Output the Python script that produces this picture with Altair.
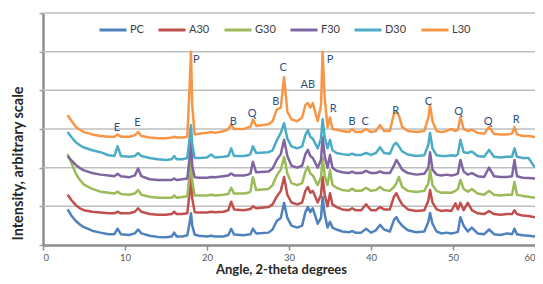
import altair as alt
import pandas as pd

series_names = ["PC", "A30", "G30", "F30", "D30", "L30"]
series_colors = ["#4F81BD", "#C0504D", "#9BBB59", "#8064A2", "#4BACC6", "#F79646"]

angles = [3, 3.5, 4, 4.5, 5, 6, 7, 8, 8.7, 9.1, 9.5, 10.5, 11.2, 11.6, 12.0, 13, 14, 15,
          15.7, 16.0, 16.3, 17, 17.6, 17.9, 18.05, 18.2, 18.5, 19, 20, 20.5, 21, 22, 22.6,
          22.95, 23.3, 24.5, 25.0, 25.3, 25.6, 26.0, 27.5, 28.0, 28.5, 29.0, 29.4, 29.8, 30.3,
          31, 31.6, 32.0, 32.3, 32.6, 32.9, 33.5, 33.9, 34.1, 34.35, 34.7, 35.0, 35.3, 35.8,
          36.5, 37.3, 37.7, 38.1, 38.8, 39.4, 40.0, 40.6, 41.1, 41.6, 42.3, 42.8, 43.1, 43.4,
          43.8, 44.5, 45.5, 46.5, 47.0, 47.2, 47.5, 48.0, 48.6, 49.2, 49.8, 50.3, 50.6, 50.9,
          51.3, 51.8, 52.3, 53.0, 53.8, 54.4, 55.0, 55.8, 56.6, 57.2, 57.5, 57.8, 58.5, 59.2, 60.0]

pc = [0.92, 0.75, 0.62, 0.53, 0.46, 0.37, 0.32, 0.28, 0.28, 0.42, 0.28, 0.26, 0.30, 0.40, 0.30, 0.24, 0.21, 0.20,
      0.22, 0.32, 0.22, 0.22, 0.25, 0.60, 0.82, 0.50, 0.27, 0.24, 0.22, 0.24, 0.22, 0.22, 0.26,
      0.42, 0.27, 0.25, 0.27, 0.28, 0.42, 0.30, 0.32, 0.40, 0.62, 0.70, 1.09, 0.70, 0.50,
      0.45, 0.50, 0.85, 0.98, 0.85, 0.95, 0.55, 0.70, 1.24, 0.80, 0.45, 0.60, 0.45, 0.40,
      0.35, 0.33, 0.36, 0.32, 0.32, 0.42, 0.32, 0.38, 0.52, 0.40, 0.35, 0.65, 0.72, 0.60,
      0.50, 0.38, 0.33, 0.35, 0.60, 0.83, 0.55, 0.35, 0.30, 0.32, 0.30, 0.32, 0.34, 0.72,
      0.50, 0.35, 0.45, 0.30, 0.28, 0.40, 0.28, 0.26, 0.30, 0.28, 0.42, 0.28, 0.25, 0.24, 0.22]

a30 = [1.30, 1.15, 1.03, 0.95, 0.90, 0.86, 0.84, 0.82, 0.82, 0.86, 0.82, 0.82, 0.86, 0.95, 0.86, 0.80, 0.78, 0.78,
       0.80, 0.86, 0.80, 0.80, 0.82, 1.40, 1.85, 1.20, 0.85, 0.84, 0.84, 0.86, 0.85, 0.86, 0.90,
       1.12, 0.92, 0.90, 0.92, 0.93, 1.00, 0.95, 0.98, 1.05, 1.25, 1.40, 1.76, 1.30, 1.10,
       1.05, 1.10, 1.40, 1.50, 1.35, 1.40, 1.10, 1.30, 1.76, 1.30, 1.00, 1.34, 1.05, 0.98,
       0.92, 0.90, 0.95, 0.90, 0.90, 1.05, 0.90, 0.90, 0.98, 0.92, 0.92, 1.25, 1.34, 1.20,
       1.05, 0.92, 0.88, 0.90, 1.15, 1.42, 1.10, 0.92, 0.88, 0.90, 0.88, 1.08, 0.92, 1.09,
       0.90, 1.09, 0.90, 0.82, 0.80, 0.88, 0.80, 0.78, 0.80, 0.80, 0.90, 0.80, 0.76, 0.75, 0.72]

g30 = [2.35, 2.10, 1.85, 1.68, 1.56, 1.45, 1.38, 1.35, 1.33, 1.38, 1.32, 1.30, 1.33, 1.42, 1.30, 1.25, 1.22, 1.22,
       1.22, 1.28, 1.22, 1.24, 1.26, 1.90, 2.40, 1.65, 1.28, 1.28, 1.28, 1.30, 1.28, 1.30, 1.32,
       1.48, 1.33, 1.33, 1.35, 1.38, 1.75, 1.42, 1.45, 1.55, 1.80, 1.95, 2.28, 1.85, 1.60,
       1.55, 1.60, 1.90, 2.02, 1.85, 1.80, 1.55, 1.75, 2.25, 1.80, 1.55, 1.94, 1.55, 1.48,
       1.42, 1.40, 1.46, 1.40, 1.40, 1.48, 1.40, 1.42, 1.50, 1.42, 1.40, 1.50, 1.60, 1.76,
       1.50, 1.40, 1.37, 1.40, 1.60, 1.94, 1.55, 1.40, 1.35, 1.36, 1.35, 1.40, 1.45, 1.68,
       1.45, 1.38, 1.45, 1.33, 1.30, 1.40, 1.30, 1.28, 1.30, 1.30, 1.63, 1.30, 1.27, 1.25, 1.22]

f30 = [2.30, 2.18, 2.07, 1.99, 1.93, 1.86, 1.82, 1.80, 1.78, 1.84, 1.78, 1.75, 1.80, 1.98, 1.78, 1.70, 1.68, 1.68,
       1.68, 1.72, 1.68, 1.70, 1.72, 2.30, 2.75, 2.05, 1.75, 1.74, 1.74, 1.76, 1.75, 1.78, 1.80,
       1.85, 1.80, 1.80, 1.82, 1.85, 2.15, 1.88, 1.90, 1.98, 2.20, 2.35, 2.72, 2.30, 2.05,
       2.00, 2.05, 2.35, 2.46, 2.30, 2.25, 2.00, 2.20, 2.80, 2.30, 2.00, 2.33, 2.00, 1.92,
       1.88, 1.86, 1.90, 1.86, 1.86, 1.92, 1.86, 1.86, 1.90, 1.86, 1.86, 2.05, 2.20, 2.10,
       1.95, 1.86, 1.82, 1.84, 2.00, 2.40, 1.95, 1.82, 1.80, 1.82, 1.80, 1.82, 1.85, 2.20,
       1.90, 1.82, 1.86, 1.78, 1.76, 2.00, 1.78, 1.76, 1.76, 1.78, 2.20, 1.78, 1.74, 1.73, 1.72]

d30 = [2.92, 2.78, 2.66, 2.58, 2.52, 2.45, 2.40, 2.32, 2.30, 2.55, 2.30, 2.28, 2.30, 2.38, 2.30, 2.25, 2.22, 2.20,
       2.22, 2.30, 2.22, 2.22, 2.25, 2.80, 3.10, 2.60, 2.25, 2.25, 2.26, 2.34, 2.26, 2.28, 2.30,
       2.50, 2.30, 2.30, 2.32, 2.35, 2.55, 2.38, 2.40, 2.45, 2.70, 2.90, 3.15, 2.75, 2.55,
       2.50, 2.55, 2.85, 2.97, 2.80, 2.75, 2.50, 2.75, 3.25, 2.80, 2.50, 2.72, 2.45, 2.38,
       2.35, 2.33, 2.36, 2.33, 2.33, 2.38, 2.33, 2.38, 2.53, 2.38, 2.36, 2.60, 2.64, 2.55,
       2.42, 2.34, 2.30, 2.32, 2.60, 2.90, 2.50, 2.32, 2.30, 2.30, 2.32, 2.30, 2.35, 2.72,
       2.40, 2.38, 2.42, 2.30, 2.28, 2.46, 2.28, 2.26, 2.28, 2.28, 2.50, 2.28, 2.25, 2.25, 2.00]

l30 = [3.36, 3.20, 3.06, 2.98, 2.92, 2.86, 2.82, 2.80, 2.80, 2.86, 2.80, 2.80, 2.84, 2.92, 2.82, 2.78, 2.76, 2.76,
       2.78, 2.80, 2.78, 2.78, 2.80, 4.20, 5.00, 3.60, 2.86, 2.88, 2.90, 2.92, 2.90, 2.94, 3.00,
       3.12, 3.00, 3.00, 3.04, 3.06, 3.25, 3.08, 3.12, 3.20, 3.50, 3.55, 4.34, 3.45, 3.25,
       3.20, 3.30, 3.62, 3.67, 3.55, 3.67, 3.20, 3.60, 5.00, 3.80, 3.05, 3.30, 3.00, 2.98,
       2.95, 2.92, 3.00, 2.92, 2.92, 3.00, 2.92, 2.95, 3.10, 2.95, 2.95, 3.40, 3.44, 3.35,
       3.05, 2.95, 2.92, 2.95, 3.30, 3.62, 3.20, 2.95, 2.92, 2.95, 3.00, 2.95, 2.98, 3.31,
       3.00, 2.95, 2.98, 2.90, 2.88, 3.05, 2.88, 2.86, 2.86, 2.88, 3.05, 2.86, 2.82, 2.82, 2.79]

peak_labels = ["E", "E", "P", "B", "Q", "B", "C", "AB", "P", "R", "B", "C", "R", "C", "Q", "Q", "R"]
peak_angles = [9.0, 11.5, 18.7, 23.2, 25.5, 28.4, 29.3, 32.3, 35.0, 35.4, 37.7, 39.3, 43.0, 47.0, 50.7, 54.3, 57.7]
peak_heights = [3.03, 3.15, 4.78, 3.18, 3.39, 3.70, 4.58, 4.14, 4.78, 3.52, 3.18, 3.18, 3.47, 3.70, 3.44, 3.18, 3.23]

x_ticks = [0, 10, 20, 30, 40, 50, 60]
y_ticks = [0, 1, 2, 3, 4, 5, 6]

all_values = [pc, a30, g30, f30, d30, l30]
rows = []
for name, vals in zip(series_names, all_values):
    for a, v in zip(angles, vals):
        rows.append({"series": name, "angle": a, "intensity": v})
df = pd.DataFrame(rows)
lab_df = pd.DataFrame({"label": peak_labels, "angle": peak_angles, "intensity": peak_heights})
grid_df = pd.DataFrame({"angle": [0.0] * (len(y_ticks) - 1), "intensity": y_ticks[1:]})

FONT = "Lato"
xscale = alt.Scale(domain=[0, 60], nice=False, zero=False)
yscale = alt.Scale(domain=[0, 6], nice=False, zero=False)

x_axis = alt.Axis(values=x_ticks, title="Angle, 2-theta degrees", grid=False,
                  labelFontSize=9.5, labelColor="#595959", labelPadding=2,
                  tickSize=5, tickColor="#8C8C8C", tickWidth=1.5,
                  domainColor="#8C8C8C", domainWidth=2.5,
                  titleFontSize=13, titleFontWeight="bold", titleColor="#262626",
                  titleX=238, titleY=31, titleBaseline="bottom", titleAlign="center")
y_axis = alt.Axis(values=y_ticks, labels=False, title="Intensity, arbitrary scale",
                  grid=False, tickSize=4, tickColor="#A6A6A6", tickWidth=1.5,
                  domainColor="#8C8C8C", domainWidth=2.5,
                  titleFontSize=14.5, titleFontWeight="bold", titleColor="#262626",
                  titleAngle=270, titleX=-25, titleY=150, titleAlign="center",
                  titleBaseline="middle")

grid = alt.Chart(grid_df).mark_rule(color="#BFBFBF", strokeWidth=1.5).encode(
    y=alt.Y("intensity:Q", scale=yscale, axis=y_axis))

lines = alt.Chart(df).mark_line(strokeWidth=2.5, strokeJoin="round").encode(
    x=alt.X("angle:Q", scale=xscale, axis=x_axis),
    y=alt.Y("intensity:Q", scale=yscale, axis=y_axis),
    color=alt.Color("series:N", sort=series_names,
                    scale=alt.Scale(domain=series_names, range=series_colors),
                    legend=alt.Legend(orient="none", legendX=55, legendY=2, direction="horizontal",
                                      title=None, symbolType="stroke", symbolSize=729,
                                      symbolStrokeWidth=3, labelFontSize=11, labelFont=FONT,
                                      labelColor="#404040", columnPadding=8, labelOffset=2)),
    detail="series:N",
)

texts = alt.Chart(lab_df).mark_text(fontSize=11, font=FONT, color="#2F4F7F",
                                    align="center", baseline="middle").encode(
    x=alt.X("angle:Q", scale=xscale, axis=x_axis),
    y=alt.Y("intensity:Q", scale=yscale, axis=y_axis),
    text="label:N")

chart = alt.layer(grid, lines, texts).properties(
    width=492, height=232,
    autosize=alt.AutoSizeParams(type="none"),
    padding={"left": 35, "top": 5, "right": 0, "bottom": 31},
).configure_view(stroke=None).configure_axis(labelFont=FONT, titleFont=FONT)

chart.save("out.html", embed_options={"renderer": "svg", "actions": False})
